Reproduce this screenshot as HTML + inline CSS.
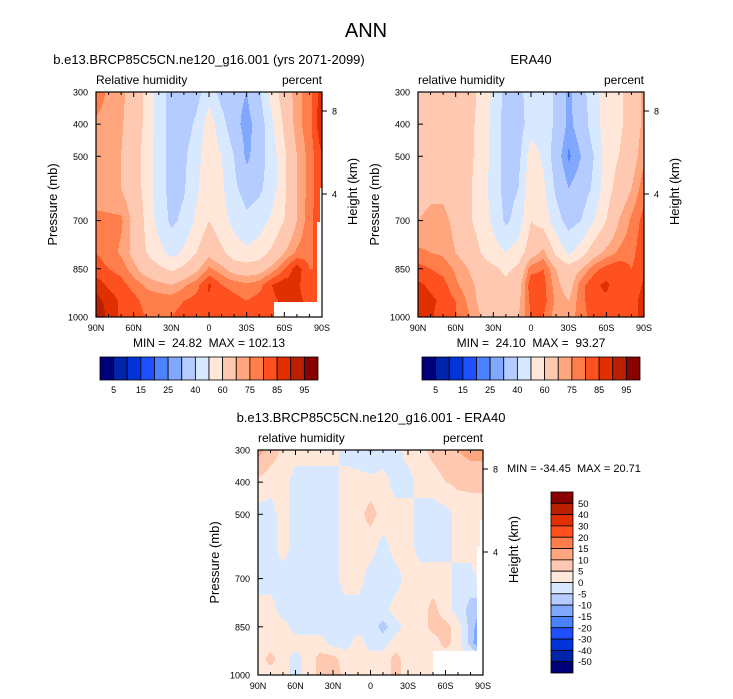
<!DOCTYPE html>
<html><head><meta charset="utf-8">
<style>
body{margin:0;background:#fff;}
svg{display:block;font-family:"Liberation Sans",Helvetica,Arial,sans-serif;}
text{white-space:pre;}
</style></head>
<body>
<svg id="fig" width="733" height="699" viewBox="0 0 733 699" xmlns="http://www.w3.org/2000/svg">
<text x="366" y="37" font-size="20" text-anchor="middle">ANN</text>
</svg>
<script>
// ---- data ----
const lats = ["90N","80N","70N","60N","50N","40N","30N","20N","10N","0","10S","20S","30S","40S","50S","60S","70S","80S","90S"];
const pressures = [300,400,500,600,700,800,850,900,950,1000];
const xTickLabels = ["90N","60N","30N","0","30S","60S","90S"];
const yTickLabels = [300,400,500,700,850,1000];
const rhLevels = [5,10,15,20,25,30,40,50,60,70,75,80,85,90,95];
const rhLabels = [5,15,25,40,60,75,85,95];
const diffLevels = [-50,-40,-30,-20,-15,-10,-5,0,5,10,15,20,30,40,50];
const diffLabels = [50,40,30,20,15,10,5,0,-5,-10,-15,-20,-30,-40,-50];
const modelRH = [
 [78,74,72,66,58,45,36,35,36,46,36,33,30,38,55,65,73,78,88],
 [74,73,71,65,58,45,36,35,42,55,44,33,27,34,48,62,73,78,90],
 [73,72,70,64,57,44,37,38,46,57,50,40,28,35,45,58,70,77,85],
 [73,72,70,65,57,44,37,39,48,58,52,42,36,38,45,58,70,77,85],
 [76,76,76,68,58,46,38,42,52,60,54,47,42,45,52,60,70,78,85],
 [80,78,74,68,60,54,46,52,60,68,62,55,52,55,62,70,76,78,85],
 [82,80,78,72,66,62,58,62,68,76,72,66,65,66,72,80,88,80,80],
 [88,84,82,78,74,72,70,74,78,86,80,78,76,78,85,88,86,82,80],
 [92,88,84,82,78,78,78,80,82,84,84,82,80,82,84,86,86,84,82],
 [96,88,84,82,80,80,80,82,82,80,82,84,82,82,84,84,84,84,84]
];
const eraRH = [
 [60,65,66,66,64,58,48,36,35,48,45,38,28,36,46,55,58,64,72],
 [63,66,66,66,63,57,47,36,35,45,46,38,28,34,45,55,58,64,72],
 [64,66,67,66,63,56,47,36,37,55,48,34,24,30,40,55,60,66,74],
 [66,68,68,66,62,55,46,36,40,58,52,38,30,34,42,56,64,70,78],
 [70,72,72,68,62,56,48,38,44,60,56,44,36,40,50,60,70,76,82],
 [76,75,74,70,66,60,54,50,55,66,72,58,48,55,66,72,76,78,84],
 [82,80,78,74,70,65,62,58,62,78,80,70,64,70,78,82,84,80,84],
 [86,84,82,76,72,68,64,62,66,84,82,72,66,78,84,86,82,80,86],
 [88,86,84,80,74,68,64,64,68,82,82,74,70,78,84,84,80,82,88],
 [90,86,82,80,76,70,64,64,70,80,80,72,72,78,82,82,80,82,88]
];
const diffRH = [
 [12,8,4,2,2,2,2,-2,-3,-6,-3,-2,2,3,7,9,10,12,12],
 [4,2,2,-2,-2,-2,-2,2,2,2,2,-2,-2,2,2,5,6,6,6],
 [-2,-2,2,-2,-2,-2,-2,2,3,7,3,2,2,-2,-2,-2,2,3,3],
 [-2,-2,2,-2,-2,-2,-2,2,2,2,-2,2,2,-2,-2,-2,2,2,5],
 [-2,-2,-2,-2,-2,-2,-2,2,2,-2,-2,-2,2,2,2,2,-2,-2,2],
 [2,2,-2,-2,-2,-2,-2,-2,-2,-2,-2,2,2,2,7,2,-2,-7,-10],
 [2,2,2,-2,-2,-2,-2,-2,-2,-2,-7,-2,2,2,7,7,2,-7,-16],
 [2,2,2,2,2,2,-2,-2,2,-2,-2,2,2,2,2,7,2,-7,-20],
 [2,7,2,-2,2,7,7,2,2,2,2,7,2,2,2,2,2,2,2],
 [2,2,2,-2,2,7,10,2,2,2,2,7,2,2,2,2,2,2,2]
];
const palette = ["#00007a","#0024a8","#0034d8","#1e50ff","#4a82ff","#80a8ff","#b4ccff","#d8e8ff","#ffe8da","#ffc8b0","#ffa67e","#ff7e4c","#ff5020","#e03000","#b82000","#880000"];

const NS="http://www.w3.org/2000/svg";
const svg=document.getElementById('fig');
function mk(tag,attrs,parent){const e=document.createElementNS(NS,tag);for(const k in attrs)e.setAttribute(k,attrs[k]);(parent||svg).appendChild(e);return e;}
function txt(s,x,y,size,anchor,parent){const t=mk('text',{x:x,y:y,'font-size':size,'text-anchor':anchor||'start'},parent);t.textContent=s;return t;}

function colorIdx(v,levels){let i=0;while(i<levels.length&&v>=levels[i])i++;return i;}
function sample(grid,fx,p){
  const c=Math.max(0,Math.min(17.9999,fx));const c0=Math.floor(c),ct=c-c0;
  let r=0;while(r<pressures.length-2&&p>pressures[r+1])r++;
  const rt=Math.max(0,Math.min(1,(p-pressures[r])/(pressures[r+1]-pressures[r])));
  const a=grid[r][c0]*(1-ct)+grid[r][c0+1]*ct;
  const b=grid[r+1][c0]*(1-ct)+grid[r+1][c0+1]*ct;
  return a*(1-rt)+b*rt;
}
function xScale(x0,w,latIndex){return x0+latIndex/18*w;}
function yScale(y0,h,p){return y0+(p-300)/700*h;}

function panel(opt){
  const g=mk('g',{});
  
  
  const {x0,y0,w,h}=opt;
  const field=mk('g',{},g);
  
  
  for(let yy=0;yy<h;yy++){
    const p=300+(yy+0.5)/h*700;
    let runStart=0,runC=-1;
    for(let xx=0;xx<=w;xx++){
      let c=-2;
      if(xx<w){const v=sample(opt.grid,(xx+0.5)/w*18,p);c=colorIdx(v,opt.levels);}
      if(c!==runC){
        if(runC>=0){mk('rect',{x:x0+runStart,y:y0+yy,width:xx-runStart,height:1.02,fill:palette[runC]},field);}
        runStart=xx;runC=c;
      }
    }
  }
  opt.masks.forEach(m=>{const r=mk('rect',{x:m[0],y:m[1],width:m[2],height:m[3],fill:'#fff'},g);});
  mk('rect',{x:x0,y:y0,width:w,height:h,fill:'none',stroke:'#000','stroke-width':1.2},g);
  for(let i=0;i<=18;i++){
    const x=xScale(x0,w,i);const major=i%3===0;const L=major?5:3;
    mk('line',{x1:x,y1:y0,x2:x,y2:y0+L,stroke:'#000','stroke-width':1},g);
    mk('line',{x1:x,y1:y0+h,x2:x,y2:y0+h-L,stroke:'#000','stroke-width':1},g);
  }
  xTickLabels.forEach((s,i)=>{const t=txt(s,xScale(x0,w,i*3),y0+h+14,9,'middle',g);});
  yTickLabels.forEach(p=>{
    const y=yScale(y0,h,p);
    mk('line',{x1:x0,y1:y,x2:x0+5,y2:y,stroke:'#000'},g);
    const t=txt(String(p),x0-8,y+3.5,9,'end',g);
    
    
  });
  [[8,19],[4,102]].forEach(a=>{
    const y=y0+a[1];
    mk('line',{x1:x0+w,y1:y,x2:x0+w+5,y2:y,stroke:'#000'},g);
    const t=txt(String(a[0]),x0+w+10,y+3.5,9,'start',g);
    
    
  });
  const yt=txt('Pressure (mb)',0,0,13,'middle',g);yt.setAttribute('transform',`translate(${x0-39},${y0+h/2}) rotate(-90)`);
  
  const ht=txt('Height (km)',0,0,13,'middle',g);ht.setAttribute('transform',`translate(${x0+w+35},${y0+h/2-13}) rotate(-90)`);
  
  const l1=txt(opt.left,x0,y0-8,12,'start',g);
  const l2=txt('percent',x0+w,y0-8,12,'end',g);
  const tt=txt(opt.title,opt.titleX,y0-28,13,'middle',g);
  return g;
}

function hbar(x0,y0,w,h){
  const g=mk('g',{});
  
  
  const bw=w/palette.length;
  palette.forEach((c,i)=>{mk('rect',{x:x0+i*bw,y:y0,width:bw,height:h,fill:c,stroke:'#000','stroke-width':0.8},g);});
  rhLabels.forEach(v=>{const i=rhLevels.indexOf(v)+1;const t=txt(String(v),x0+i*bw,y0+h+13,9,'middle',g);});
}

panel({name:'model-panel',x0:96,y0:92,w:226,h:225,grid:modelRH,levels:rhLevels,left:'Relative humidity',title:'b.e13.BRCP85C5CN.ne120_g16.001 (yrs 2071-2099)',titleX:209,
  masks:[[274,302,48,15],[317,222,5,80],[320,188,2,34]]});
let m1=txt('MIN =  24.82  MAX = 102.13',209,347,12,'middle');
hbar(100,357,218,23);

panel({name:'era40-panel',x0:418,y0:92,w:226,h:225,grid:eraRH,levels:rhLevels,left:'relative humidity',title:'ERA40',titleX:531,masks:[]});
let m2=txt('MIN =  24.10  MAX =  93.27',531,347,12,'middle');
hbar(422,357,218,23);

panel({name:'difference-panel',x0:258,y0:450,w:225,h:225,grid:diffRH,levels:diffLevels,left:'relative humidity',title:'b.e13.BRCP85C5CN.ne120_g16.001 - ERA40',titleX:371,
  masks:[[433,651,50,24],[477,547,6,104],[480,520,3,27]]});
let m3=txt('MIN = -34.45  MAX = 20.71',507,472,11,'start');

(function(){
  const g=mk('g',{});
  
  
  const x0=551,y0=492,w=22,h=181,bh=h/palette.length;
  for(let i=0;i<palette.length;i++){
    mk('rect',{x:x0,y:y0+i*bh,width:w,height:bh,fill:palette[palette.length-1-i],stroke:'#000','stroke-width':0.8},g);
  }
  diffLabels.forEach((v,i)=>{const t=txt(String(v),x0+w+5,y0+(i+1)*bh+3.5,9.5,'start',g);});
})();
</script>
</body></html>
